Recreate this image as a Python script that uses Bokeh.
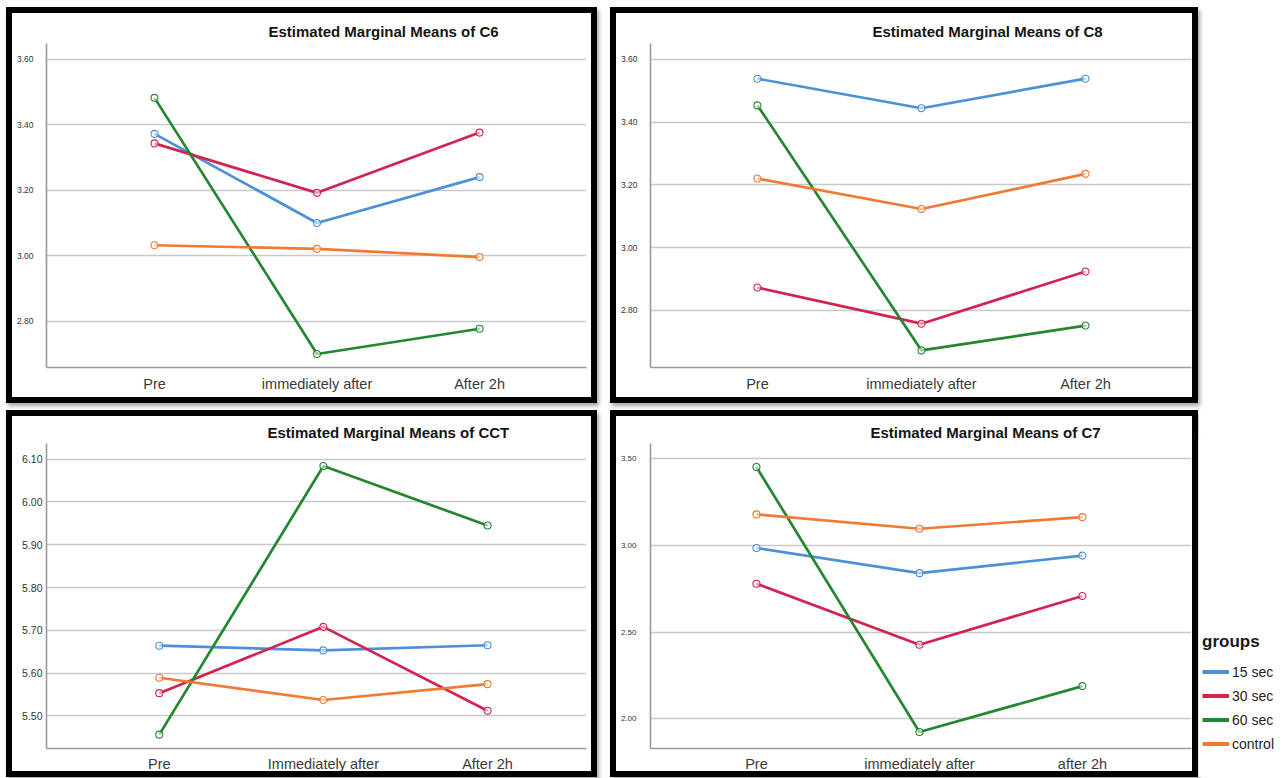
from bokeh.plotting import figure
from bokeh.models import Range1d, FixedTicker, NumeralTickFormatter, Legend, LegendItem, FactorRange
from bokeh.layouts import row, column
from bokeh.embed import file_html
from bokeh.resources import INLINE

# ---------------- data ----------------
groups = ["15 sec", "30 sec", "60 sec", "control"]
colors = ["#4c90d8", "#d3234f", "#23872f", "#f07a31"]

cats_c6 = ["Pre", "immediately after", "After 2h"]
c6_15 = [3.372, 3.100, 3.240]
c6_30 = [3.343, 3.192, 3.376]
c6_60 = [3.482, 2.700, 2.777]
c6_ctrl = [3.032, 3.021, 2.996]

cats_c8 = ["Pre", "immediately after", "After 2h"]
c8_15 = [3.538, 3.444, 3.538]
c8_30 = [2.873, 2.758, 2.924]
c8_60 = [3.453, 2.673, 2.752]
c8_ctrl = [3.220, 3.123, 3.235]

cats_cct = ["Pre", "Immediately after", "After 2h"]
cct_15 = [5.664, 5.653, 5.665]
cct_30 = [5.553, 5.708, 5.512]
cct_60 = [5.456, 6.084, 5.945]
cct_ctrl = [5.589, 5.537, 5.574]

cats_c7 = ["Pre", "immediately after", "after 2h"]
c7_15 = [2.985, 2.840, 2.941]
c7_30 = [2.779, 2.427, 2.708]
c7_60 = [3.452, 1.923, 2.188]
c7_ctrl = [3.179, 3.096, 3.163]

ticks_c6 = [2.8, 3.0, 3.2, 3.4, 3.6]
ticks_c8 = [2.8, 3.0, 3.2, 3.4, 3.6]
ticks_cct = [5.5, 5.6, 5.7, 5.8, 5.9, 6.0, 6.1]
ticks_c7 = [2.0, 2.5, 3.0, 3.5]

FONT = "Liberation Sans"
BORDER = {"border": "6px solid #000000", "box-shadow": "2px 3px 4px rgba(0,0,0,0.35)"}


def make_panel(title, cats, series, xr, yr, ticks, w, h, mbl, mbr, mbt, mbb,
               ylab_size, ylab_standoff, xlab_standoff, title_offset, title_standoff):
    xs = list(range(len(cats)))  # category positions on the axis
    p = figure(width=w, height=h, x_range=Range1d(*xr), y_range=Range1d(*yr),
               toolbar_location=None, output_backend="svg",
               min_border_left=mbl, min_border_right=mbr,
               min_border_top=mbt, min_border_bottom=mbb)
    p.title.text = title
    p.title.align = "left"
    p.title.offset = title_offset
    p.title.standoff = title_standoff
    p.title.text_font = FONT
    p.title.text_font_size = "15px"
    p.title.text_font_style = "bold"
    p.title.text_color = "#151515"

    for vals, col in zip(series, colors):
        p.line(x=xs, y=vals, line_color=col, line_width=2.7)
        p.scatter(x=xs, y=vals, size=7, marker="circle", line_color=col,
                  line_width=1.1, fill_color="white", fill_alpha=0.55)

    p.outline_line_color = None
    p.background_fill_color = "white"
    p.border_fill_color = "white"
    p.xgrid.grid_line_color = None
    p.ygrid.grid_line_color = "#c9c9c9"
    p.ygrid.grid_line_width = 1.5
    p.ygrid.ticker = FixedTicker(ticks=ticks)

    p.xaxis.ticker = FixedTicker(ticks=xs)
    p.xaxis.major_label_overrides = {i: c for i, c in zip(xs, cats)}
    p.yaxis.ticker = FixedTicker(ticks=ticks)
    p.yaxis.formatter = NumeralTickFormatter(format="0.00")
    p.yaxis.major_label_text_font = FONT
    p.yaxis.major_label_text_font_size = ylab_size
    p.yaxis.major_label_text_color = "#333333"
    p.yaxis.major_label_standoff = ylab_standoff
    p.xaxis.major_label_text_font = FONT
    p.xaxis.major_label_text_font_size = "14.5px"
    p.xaxis.major_label_text_color = "#3a3a3a"
    p.xaxis.major_label_standoff = xlab_standoff
    for ax in (p.xaxis, p.yaxis):
        ax.axis_line_color = "#9a9a9a"
        ax.axis_line_width = 1.6
        ax.major_tick_line_color = None
        ax.minor_tick_line_color = None
        ax.major_tick_out = 0
        ax.major_tick_in = 0
        ax.minor_tick_out = 0
        ax.minor_tick_in = 0
    p.styles = BORDER
    return p


p1 = make_panel("Estimated Marginal Means of C6", cats_c6,
                [c6_15, c6_30, c6_60, c6_ctrl], (-0.665, 2.658), (2.6587, 3.648), ticks_c6,
                591, 396, 34, 17, 30, 42, "8.5px", 13, 8, 222, 8)
p2 = make_panel("Estimated Marginal Means of C8", cats_c8,
                [c8_15, c8_30, c8_60, c8_ctrl], (-0.652, 2.646), (2.6185, 3.650), ticks_c8,
                588, 396, 34, 13, 30, 42, "8.5px", 13, 8, 222, 8)
p3 = make_panel("Estimated Marginal Means of CCT", cats_cct,
                [cct_15, cct_30, cct_60, cct_ctrl], (-0.687, 2.603), (5.4236, 6.1367), ticks_cct,
                591, 367, 34, 17, 27, 35, "10.5px", 4, 7, 221, 6)
p4 = make_panel("Estimated Marginal Means of C7", cats_c7,
                [c7_15, c7_30, c7_60, c7_ctrl], (-0.650, 2.669), (1.828, 3.588), ticks_c7,
                588, 367, 34, 13, 27, 35, "8px", 14, 7, 220, 6)
p3.margin = (0, 13, 0, 0)

# ---------------- legend panel (series lie outside its visible range) ----------------
lg = figure(width=87, height=367, toolbar_location=None, output_backend="svg",
            x_axis_type=None, y_axis_type=None,
            x_range=FactorRange(factors=cats_c7), y_range=Range1d(10, 11),
            min_border_left=0, min_border_right=0, min_border_top=27, min_border_bottom=0)
lg.outline_line_color = None
lg.background_fill_color = "white"
lg.border_fill_color = "white"
items = []
for name, vals, col in zip(groups, [c7_15, c7_30, c7_60, c7_ctrl], colors):
    r = lg.line(x=cats_c7, y=vals, line_color=col, line_width=4)
    items.append(LegendItem(label=name, renderers=[r]))
legend = Legend(items=items, location=(4, 23), padding=0, margin=0,
                title="groups", title_text_font=FONT, title_text_font_size="17px",
                title_text_font_style="bold", title_text_color="#1a1a1a", title_standoff=9,
                spacing=3, label_height=21, glyph_height=21, glyph_width=27,
                label_standoff=3, label_text_font=FONT, label_text_font_size="14px",
                label_text_color="#222222", border_line_color=None,
                background_fill_alpha=0)
lg.add_layout(legend, "center")

layout = column(row(p1, p2, spacing=13), row(p3, p4, column(lg)), spacing=7)
layout.margin = (7, 0, 0, 6)

open("out.html", "w").write(file_html(layout, INLINE))
